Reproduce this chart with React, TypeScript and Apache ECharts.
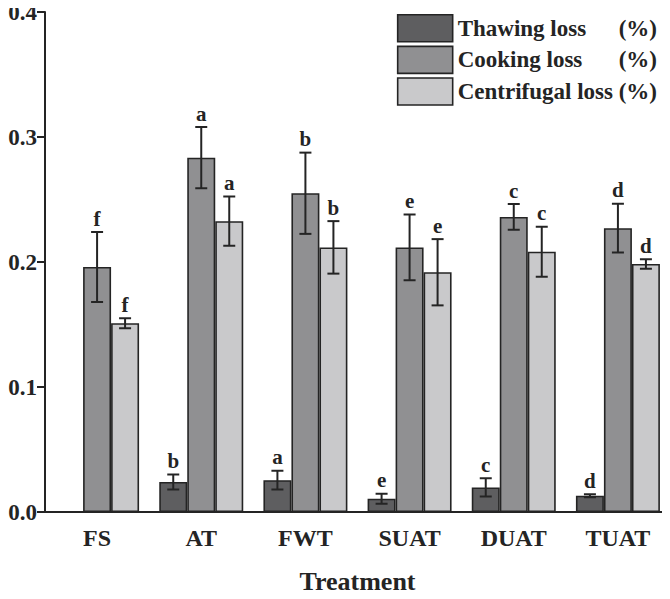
import React, { useEffect, useRef } from "react";
import * as echarts from "echarts";

const categories = ["FS", "AT", "FWT", "SUAT", "DUAT", "TUAT"];
const seriesNames = ["Thawing loss", "Cooking loss", "Centrifugal loss"];
const thawing = [null, 0.024, 0.0255, 0.0106, 0.0197, 0.013];
const thawingErr = [null, 0.006, 0.0075, 0.004, 0.0073, 0.0012];
const thawingLetters = ["", "b", "a", "e", "c", "d"];
const cooking = [0.196, 0.2835, 0.255, 0.2117, 0.2361, 0.2271];
const cookingErr = [0.028, 0.0245, 0.0325, 0.0263, 0.0103, 0.0195];
const cookingLetters = ["f", "a", "b", "e", "c", "d"];
const centrifugal = [0.151, 0.2327, 0.2117, 0.1918, 0.2082, 0.1984];
const centrifugalErr = [0.004, 0.0197, 0.021, 0.0265, 0.02, 0.0038];
const centrifugalLetters = ["f", "a", "b", "e", "c", "d"];
const yTicks = [0, 0.1, 0.2, 0.3, 0.4];

const colors = ["#5e5e60", "#909092", "#c9c9cb"];
const FONT = "Liberation Serif";
const BAR_W = 28;

export default function App() {
  const ref = useRef<HTMLDivElement>(null);
  useEffect(() => {
    if (!ref.current) return;
    const chart = echarts.init(ref.current, null, { renderer: "svg" });
    const values = [thawing, cooking, centrifugal];
    const errs = [thawingErr, cookingErr, centrifugalErr];
    const letters = [thawingLetters, cookingLetters, centrifugalLetters];

    const barSeries = seriesNames.map((name, i) => ({
      name,
      type: "bar",
      data: values[i],
      barWidth: BAR_W,
      barGap: "0%",
      itemStyle: { color: colors[i], borderColor: "#242424", borderWidth: 1.6 },
      z: 2,
    }));

    const errSeries = seriesNames.map((name, i) => ({
      name: name + "_err",
      type: "custom",
      z: 5,
      data: categories.map((c, k) => [k, values[i][k], errs[i][k]]),
      renderItem: (params: any, api: any) => {
        const idx = params.dataIndex;
        const val = values[i][idx];
        if (val === null || val === undefined) return null;
        const err = errs[i][idx] as number;
        const letter = letters[i][idx];
        const center = api.coord([idx, val]);
        const x = center[0] + (i - 1) * BAR_W;
        const top = api.coord([idx, val + err])[1];
        const bot = api.coord([idx, val - err])[1];
        const cap = 6;
        const st = { stroke: "#242424", lineWidth: 2 };
        return {
          type: "group",
          children: [
            { type: "line", shape: { x1: x, y1: top, x2: x, y2: bot }, style: st },
            { type: "line", shape: { x1: x - cap, y1: top, x2: x + cap, y2: top }, style: st },
            { type: "line", shape: { x1: x - cap, y1: bot, x2: x + cap, y2: bot }, style: st },
            {
              type: "text",
              x: x,
              y: top - 3,
              style: {
                text: letter,
                fontFamily: FONT,
                fontWeight: "bold",
                fontSize: 21,
                fill: "#242424",
                align: "center",
                verticalAlign: "bottom",
              },
            },
          ],
        };
      },
    }));

    chart.setOption({
      animation: false,
      grid: { left: 45, right: 0, top: 12, bottom: 85, containLabel: false },
      legend: {
        right: 8,
        top: 9,
        orient: "vertical",
        icon: "rect",
        itemWidth: 55,
        itemHeight: 27,
        itemGap: 3,
        selectedMode: false,
        data: seriesNames.map((n) => ({
          name: n,
          itemStyle: { borderColor: "#242424", borderWidth: 1.6 },
        })),
        formatter: (n: string) => `{a|${n}}{b|(%)}`,
        textStyle: {
          fontFamily: FONT,
          fontWeight: "bold",
          fontSize: 23,
          color: "#242424",
          rich: {
            a: { fontFamily: FONT, fontWeight: "bold", fontSize: 23, color: "#242424", width: 161 },
            b: { fontFamily: FONT, fontWeight: "bold", fontSize: 23, color: "#242424" },
          },
        },
      },
      xAxis: {
        type: "category",
        data: categories,
        name: "Treatment",
        nameLocation: "middle",
        nameGap: 56,
        nameTextStyle: { fontFamily: FONT, fontWeight: "bold", fontSize: 26, color: "#242424" },
        axisLine: { lineStyle: { color: "#242424", width: 2 } },
        axisTick: { alignWithLabel: true, length: 7, lineStyle: { color: "#242424", width: 2 } },
        axisLabel: { fontFamily: FONT, fontWeight: "bold", fontSize: 24, color: "#242424", margin: 14 },
      },
      yAxis: {
        type: "value",
        min: 0,
        max: 0.4,
        interval: 0.1,
        splitLine: { show: false },
        axisLine: { show: true, lineStyle: { color: "#242424", width: 2 } },
        axisTick: { show: true, length: 8, lineStyle: { color: "#242424", width: 2 } },
        axisLabel: {
          fontFamily: FONT,
          fontWeight: "bold",
          fontSize: 23,
          color: "#242424",
          margin: 8,
          formatter: (v: number) => {
            const t = yTicks.find((y) => Math.abs(y - v) < 1e-9);
            return (t !== undefined ? t : v).toFixed(1);
          },
        },
      },
      series: [...barSeries, ...errSeries],
    });
    return () => chart.dispose();
  }, []);
  return <div ref={ref} style={{ width: 670, height: 599, margin: -8 }} />;
}
